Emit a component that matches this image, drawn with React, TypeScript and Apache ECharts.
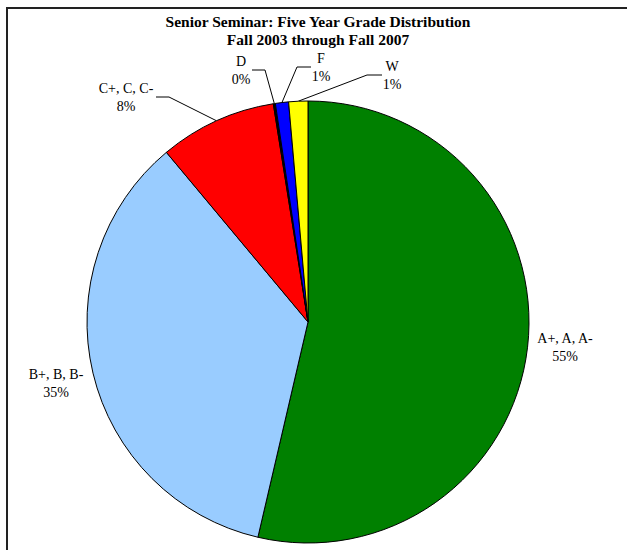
import React, { useEffect, useRef } from "react";
import * as echarts from "echarts";

// ---- data ----
const titleLines = ["Senior Seminar: Five Year Grade Distribution", "Fall 2003 through Fall 2007"];
const categories = ["A+, A, A-", "B+, B, B-", "C+, C, C-", "D", "F", "W"];
// slice shares as drawn (percent of circle)
const shares = [53.64, 35.29, 8.56, 0.15, 0.96, 1.4];
// percentages printed on the labels
const pctLabels = [55, 35, 8, 0, 1, 1];

// ---- styles / layout ----
const colors = ["#008000", "#99CCFF", "#FF0000", "#000000", "#0000FF", "#FFFF00"];
const CX = 308;
const CY = 322;
const R = 221;
// label centre, elbow x and line end x (null = no leader line)
const labelLayouts: { x: number; y: number; elbowX: number | null; endX: number | null }[] = [
  { x: 565, y: 347, elbowX: null, endX: null },
  { x: 56, y: 383, elbowX: null, endX: null },
  { x: 126, y: 97, elbowX: 169, endX: 156 },
  { x: 241, y: 70, elbowX: 265, endX: 252 },
  { x: 321, y: 67, elbowX: 297, endX: 311 },
  { x: 392, y: 75, elbowX: 367, endX: 382 },
];
const serif = "'Liberation Serif', 'Times New Roman', Times, serif";

export default function App() {
  const ref = useRef<HTMLDivElement>(null);
  useEffect(() => {
    if (!ref.current) return;
    const chart = echarts.init(ref.current, undefined, { renderer: "svg" });
    const total = shares.reduce((a, b) => a + b, 0);
    const midAngles: number[] = [];
    let acc = 0;
    shares.forEach((v) => {
      midAngles.push(((acc + v / 2) / total) * Math.PI * 2);
      acc += v;
    });
    chart.setOption({
      animation: false,
      backgroundColor: "#ffffff",
      title: {
        text: titleLines.join("\n"),
        left: 318,
        top: 12,
        padding: 0,
        textAlign: "center",
        textStyle: {
          fontFamily: serif,
          fontWeight: "bold",
          fontSize: 15.5,
          lineHeight: 18,
          color: "#000",
        },
      },
      graphic: [
        {
          type: "rect",
          shape: { x: 7, y: 8, width: 1000, height: 1000 },
          style: { fill: "none", stroke: "#222", lineWidth: 2 },
          silent: true,
        },
      ],
      series: [
        {
          type: "pie",
          center: [CX, CY],
          radius: R,
          startAngle: 90,
          clockwise: true,
          avoidLabelOverlap: false,
          silent: true,
          emphasis: { disabled: true },
          itemStyle: { borderColor: "#000", borderWidth: 1 },
          label: {
            show: true,
            position: "outside",
            fontFamily: serif,
            fontSize: 14,
            lineHeight: 18,
            color: "#000",
            formatter: (p: any) => `${categories[p.dataIndex]}\n${pctLabels[p.dataIndex]}%`,
          },
          labelLine: {
            show: true,
            length: 10,
            length2: 10,
            lineStyle: { color: "#000", width: 1 },
          },
          labelLayout: (params: any) => {
            const i = params.dataIndex;
            const L = labelLayouts[i];
            const out: any = { x: L.x, y: L.y, align: "center", verticalAlign: "middle" };
            if (L.elbowX != null && L.endX != null) {
              const a = midAngles[i];
              const sx = CX + R * Math.sin(a);
              const sy = CY - R * Math.cos(a);
              out.labelLinePoints = [
                [sx, sy],
                [L.elbowX, L.y],
                [L.endX, L.y],
              ];
            }
            return out;
          },
          data: categories.map((name, i) => ({
            name,
            value: shares[i],
            itemStyle: { color: colors[i] },
            labelLine: { show: labelLayouts[i].elbowX != null },
          })),
        },
      ],
    });
    return () => chart.dispose();
  }, []);
  return (
    <div
      ref={ref}
      style={{ position: "absolute", left: 0, top: 0, width: 627, height: 550 }}
    />
  );
}
